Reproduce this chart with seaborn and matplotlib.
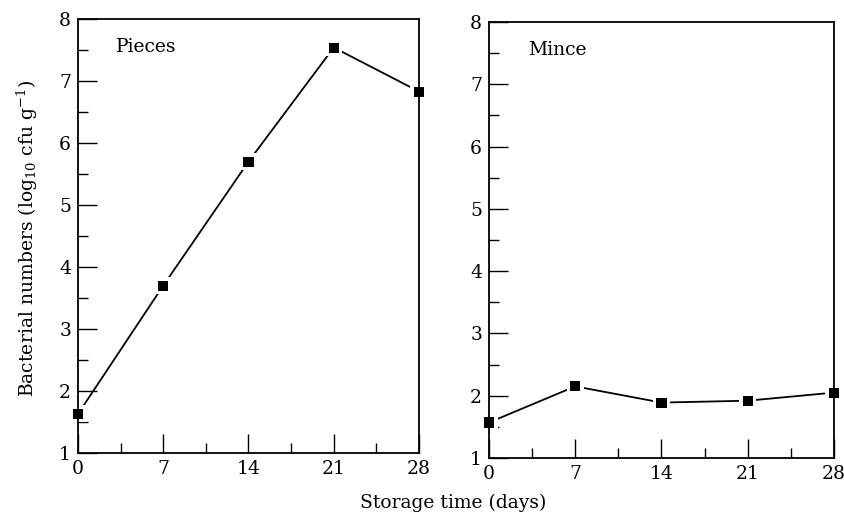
import matplotlib
matplotlib.use("Agg")
import matplotlib.pyplot as plt
from matplotlib.ticker import MultipleLocator
import seaborn as sns
import pandas as pd

days = [0, 7, 14, 21, 28]
pieces = [1.63, 3.70, 5.70, 7.54, 6.83]
mince = [1.57, 2.15, 1.89, 1.92, 2.05]
panel_names = ["Pieces", "Mince"]
xticks = [0, 7, 14, 21, 28]
yticks = [1, 2, 3, 4, 5, 6, 7, 8]

sns.set_style("ticks")
plt.rcParams["font.family"] = ["DejaVu Serif"]
plt.rcParams["mathtext.fontset"] = "dejavuserif"
plt.rcParams["text.color"] = "black"

fig = plt.figure(figsize=(8.45, 5.16), dpi=100)
ax1 = fig.add_axes([78/845, 1-453/516, (419-78)/845, (453-19)/516])
ax2 = fig.add_axes([489/845, 1-458/516, (834-489)/845, (458-22)/516])

for ax, vals, name, tx, ty in [(ax1, pieces, panel_names[0], 0.11, 0.935),
                               (ax2, mince, panel_names[1], 0.113, 0.936)]:
    df = pd.DataFrame({"day": days, "count": vals})
    sns.lineplot(data=df, x="day", y="count", ax=ax, color="black", lw=1.3, zorder=2)
    sns.scatterplot(data=df, x="day", y="count", ax=ax, marker="s", s=150, color="white",
                    edgecolor="none", zorder=2.3)
    sns.scatterplot(data=df, x="day", y="count", ax=ax, marker="s", s=52, color="black",
                    edgecolor="none", zorder=3, clip_on=False)
    ax.set_xlim(0, 28)
    ax.set_ylim(1, 8)
    ax.set_xticks(xticks)
    ax.set_yticks(yticks)
    ax.xaxis.set_minor_locator(MultipleLocator(3.5))
    ax.yaxis.set_minor_locator(MultipleLocator(0.5))
    ax.tick_params(which="major", direction="in", length=14, width=1.0, labelsize=13.5,
                   pad=5, colors="black")
    ax.tick_params(which="minor", direction="in", length=7, width=1.0, colors="black")
    for sp in ax.spines.values():
        sp.set_visible(True)
        sp.set_linewidth(1.3)
        sp.set_color("black")
        sp.set_zorder(2.5)
    ax.set_xlabel("")
    ax.set_ylabel("")
    ax.text(tx, ty, name, transform=ax.transAxes, fontsize=13.5, va="center", ha="left",
            color="black")

fig.text(27/845, 1-238/516, r"Bacterial numbers (log$_{10}$ cfu g$^{-1}$)", rotation=90,
         fontsize=13.5, ha="center", va="center", color="black")
fig.text(453/845, 1-503/516, "Storage time (days)", fontsize=13.5, ha="center", va="center",
         color="black")

fig.savefig("out.png", dpi=100)
